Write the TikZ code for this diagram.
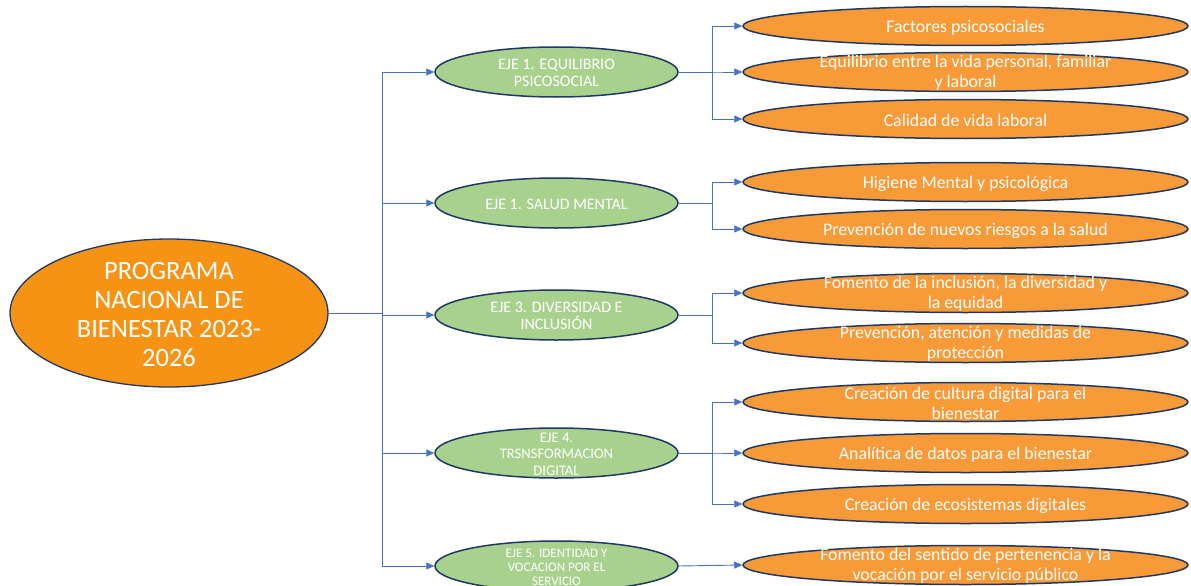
\documentclass[tikz,border=0pt]{standalone}
\usepackage{fontspec}
\setmainfont{Carlito}
\usetikzlibrary{shapes.geometric,arrows.meta}
\definecolor{mainor}{RGB}{246,147,20}
\definecolor{childor}{RGB}{248,154,56}
\definecolor{greenf}{RGB}{169,209,142}
\definecolor{outl}{RGB}{32,56,100}
\definecolor{conblue}{RGB}{68,114,196}
\tikzset{
  mainell/.style={ellipse,draw=outl,line width=1.3pt,fill=mainor,minimum width=318pt,minimum height=148pt,inner sep=0pt},
  greenell/.style={ellipse,draw=outl,line width=1.5pt,fill=greenf,minimum width=243pt,minimum height=50pt,inner sep=0pt},
  orell/.style={ellipse,draw=outl,line width=1.5pt,fill=childor,minimum width=445pt,minimum height=39pt,inner sep=0pt},
  maintxt/.style={text=white,align=center,font=\fontsize{26.5}{29}\selectfont},
  greentxt/.style={text=white,align=center,font=\fontsize{16}{17.5}\selectfont},
  greentxtm/.style={text=white,align=center,font=\fontsize{14.6}{16.5}\selectfont},
  greentxts/.style={text=white,align=center,font=\fontsize{13}{14}\selectfont},
  ortxt/.style={text=white,align=center,font=\fontsize{17.8}{20}\selectfont},
  conn/.style={draw=conblue,line width=0.9pt},
  arr/.style={conn,-{Triangle[length=8pt,width=7pt]}}
}
\begin{document}
\begin{tikzpicture}[x=1pt,y=-1pt]
\useasboundingbox (0,0) rectangle (1191,586);
% main
\node[mainell,label={[maintxt,yshift=-1pt]center:PROGRAMA\\NACIONAL DE\\BIENESTAR 2023-\\2026}] (main) at (169,313) {};
% greens
\node[greenell,label={[greentxt,yshift=-1pt]center:EJE 1. EQUILIBRIO\\PSICOSOCIAL}] (g1) at (556.5,72) {};
\node[greenell,label={[greentxt,yshift=-1pt]center:EJE 1. SALUD MENTAL}] (g2) at (556.5,203) {};
\node[greenell,label={[greentxt,yshift=-1pt]center:EJE 3. DIVERSIDAD E\\INCLUSIÓN}] (g3) at (556.5,315) {};
\node[greenell,label={[greentxtm,yshift=-1pt]center:EJE 4.\\TRSNSFORMACION\\DIGITAL}] (g4) at (556.5,453) {};
\node[greenell,label={[greentxts,yshift=-1pt]center:EJE 5. IDENTIDAD Y\\VOCACION POR EL\\SERVICIO}] (g5) at (556.5,566) {};
% oranges
\node[orell,label={[ortxt,yshift=-1.5pt]center:Factores psicosociales}] (o1) at (965.5,26) {};
\node[orell,label={[ortxt,yshift=-1pt]center:Equilibrio entre la vida personal, familiar\\y laboral}] (o2) at (965.5,72) {};
\node[orell,label={[ortxt,yshift=-1.5pt]center:Calidad de vida laboral}] (o3) at (965.5,119) {};
\node[orell,label={[ortxt,yshift=-1.5pt]center:Higiene Mental y psicológica}] (o4) at (965.5,182) {};
\node[orell,label={[ortxt,yshift=-1.5pt]center:Prevención de nuevos riesgos a la salud}] (o5) at (965.5,229) {};
\node[orell,label={[ortxt,yshift=-1pt]center:Fomento de la inclusión, la diversidad y\\la equidad}] (o6) at (965.5,293) {};
\node[orell,label={[ortxt,yshift=-1pt]center:Prevención, atención y medidas de\\protección}] (o7) at (965.5,343) {};
\node[orell,label={[ortxt,yshift=-1pt]center:Creación de cultura digital para el\\bienestar}] (o8) at (965.5,402) {};
\node[orell,label={[ortxt,yshift=-1.5pt]center:Analítica de datos para el bienestar}] (o9) at (965.5,453) {};
\node[orell,label={[ortxt,yshift=-1.5pt]center:Creación de ecosistemas digitales}] (o10) at (965.5,504) {};
\node[orell,label={[ortxt,yshift=-1pt]center:Fomento del sentido de pertenencia y la\\vocación por el servicio público}] (o11) at (965.5,565) {};
% trunk coordinates
\coordinate (tx) at (382,0);
\coordinate (bx) at (712,0);
% main to greens
\foreach \g in {g1,g2,g3,g4,g5}{
  \draw[arr] (main.east) -- (main.east -| tx) |- (\g.west);
}
% greens to oranges
\foreach \g/\o in {g1/o1,g1/o2,g1/o3,g2/o4,g2/o5,g3/o6,g3/o7,g4/o8,g4/o9,g4/o10}{
  \draw[arr] (\g.east) -- (\g.east -| bx) |- (\o.west);
}
\draw[arr] (g5.east) -- (o11.west);
\end{tikzpicture}
\end{document}
